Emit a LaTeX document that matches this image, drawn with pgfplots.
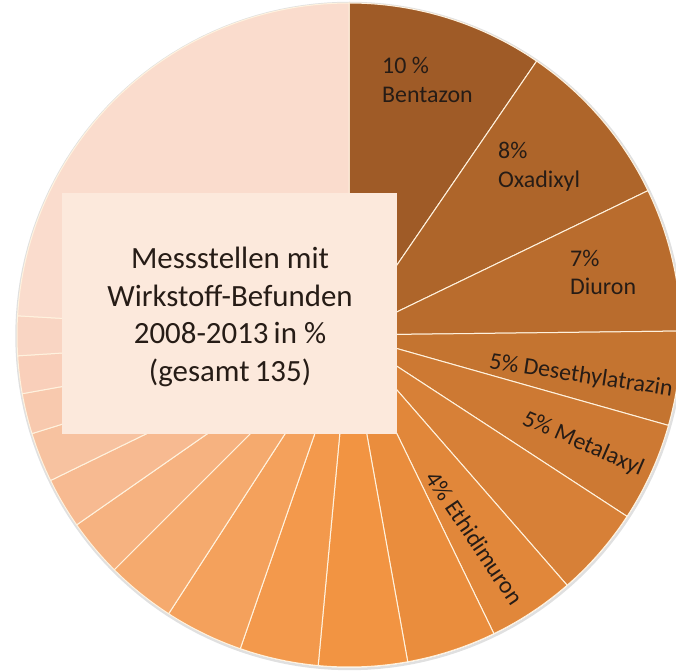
\documentclass[border=0pt]{standalone}
\usepackage{pgfplots}
\pgfplotsset{compat=1.18}
\usepackage{pgfplotstable}
\usepackage{fontspec}
\setmainfont{Carlito}

\definecolor{slice0}{RGB}{159,91,39}
\definecolor{slice1}{RGB}{174,101,42}
\definecolor{slice2}{RGB}{185,108,45}
\definecolor{slice3}{RGB}{196,116,48}
\definecolor{slice4}{RGB}{205,121,51}
\definecolor{slice5}{RGB}{215,128,55}
\definecolor{slice6}{RGB}{225,135,58}
\definecolor{slice7}{RGB}{234,141,61}
\definecolor{slice8}{RGB}{242,148,66}
\definecolor{slice9}{RGB}{243,153,76}
\definecolor{slice10}{RGB}{244,161,92}
\definecolor{slice11}{RGB}{245,170,110}
\definecolor{slice12}{RGB}{246,178,128}
\definecolor{slice13}{RGB}{247,186,145}
\definecolor{slice14}{RGB}{247,194,160}
\definecolor{slice15}{RGB}{248,201,174}
\definecolor{slice16}{RGB}{249,207,186}
\definecolor{slice17}{RGB}{249,213,195}
\definecolor{slice18}{RGB}{250,220,205}
\definecolor{sepcol}{RGB}{255,242,222}
\definecolor{boxcol}{RGB}{252,233,220}
\definecolor{txt}{RGB}{38,28,22}

\pgfplotstableread{
name value
Bentazon 9.56
Oxadixyl 8.28
Diuron 6.97
Desethylatrazin 4.58
Metalaxyl 4.81
S6 4.39
Ethidimuron 4.22
S8 4.36
S9 4.31
S10 3.83
S11 3.83
S12 3.36
S13 2.81
S14 2.47
S15 2.42
S16 1.97
S17 1.83
S18 1.92
S19 24.08
}\piedata

\begin{document}
\begin{tikzpicture}
\begin{axis}[
  scale only axis, width=676bp, height=672bp,
  xmin=0, xmax=676, ymin=0, ymax=672,
  hide axis, clip=true,
]
% faint shadow round the pie
\addplot[draw=black!12, line width=2.5bp, domain=0:360, samples=180] ({349.5+333*sin(x)},{336+333*cos(x)});
\def\cum{0}
\pgfplotsforeachungrouped \i in {0,...,18} {
  \pgfplotstablegetelem{\i}{value}\of\piedata
  \pgfmathsetmacro{\a}{\cum*3.6}
  \pgfmathsetmacro{\b}{(\cum+\pgfplotsretval)*3.6}
  \pgfmathsetmacro{\cum}{\cum+\pgfplotsretval}
  \edef\temp{\noexpand\addplot[fill=slice\i, draw=sepcol, line width=1bp, line join=round, domain=\a:\b, samples=60] ({349+332*sin(x)},{337+332*cos(x)}) -- (axis cs:349,337) -- cycle;}
  \temp
}

% box with title
\node[fill=boxcol, minimum width=335bp, minimum height=241bp, inner sep=0pt, anchor=south west] at (axis cs:62,238) {};
\node[align=center, text=txt, font=\fontsize{31}{38}\selectfont] at (axis cs:230,355)
  {Messstellen mit\\Wirkstoff-Befunden\\2008-2013\,in \%\\(gesamt\,135)};

% labels
\begin{scope}[every node/.style={text=txt, font=\fontsize{24}{28}\selectfont, inner sep=0pt}]
\node[anchor=base west] at (axis cs:382,598) {10 \%};
\node[anchor=base west] at (axis cs:382,569) {Bentazon};
\node[anchor=base west] at (axis cs:498,513) {8\%};
\node[anchor=base west] at (axis cs:498,484) {Oxadixyl};
\node[anchor=base west] at (axis cs:570,405) {7\%};
\node[anchor=base west] at (axis cs:570,377) {Diuron};
\node[rotate=-8.5] at (axis cs:581,296) {5\% Desethylatrazin};
\node[rotate=-23.5] at (axis cs:583,228) {5\% Metalaxyl};
\node[rotate=-56] at (axis cs:475,134) {4\% Ethidimuron};
\end{scope}
\end{axis}
\pgfresetboundingbox
\path[use as bounding box] (current axis.south west) rectangle (current axis.north east);
\end{tikzpicture}
\end{document}
